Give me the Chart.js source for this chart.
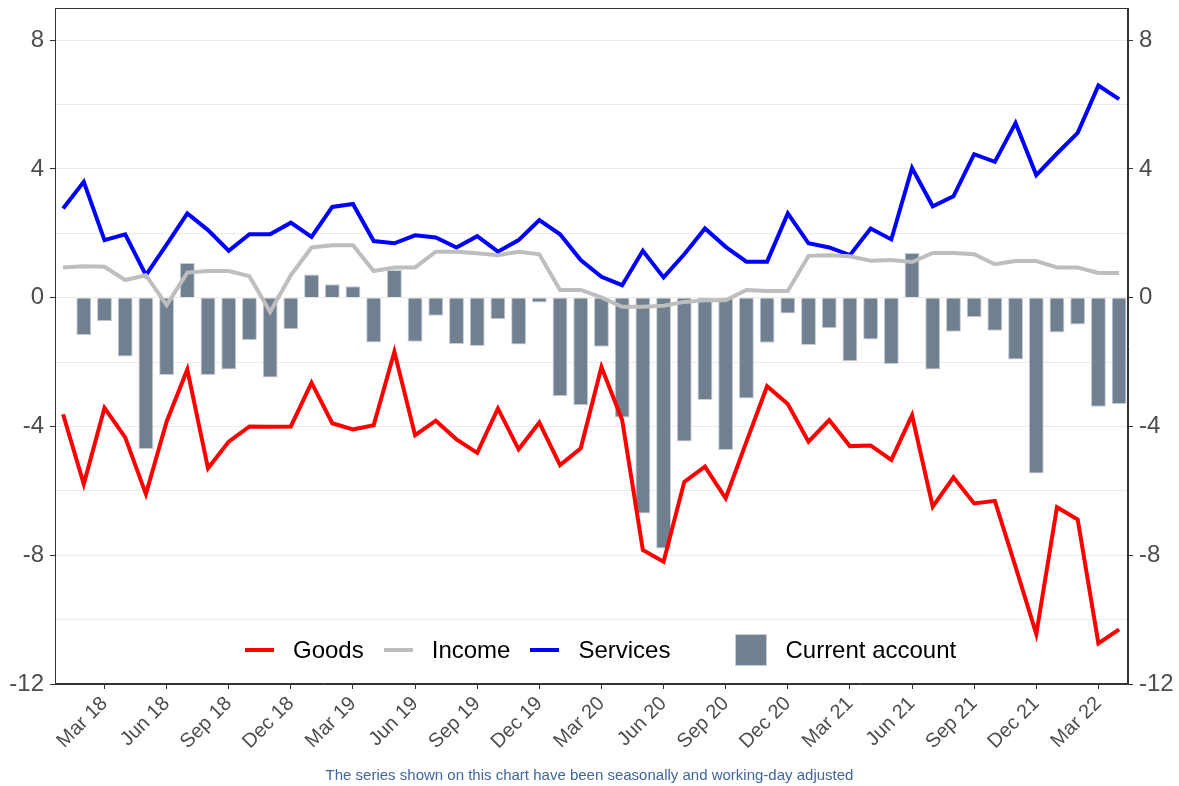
<!DOCTYPE html>
<html>
<head>
<meta charset="utf-8">
<script src="https://cdn.jsdelivr.net/npm/chart.js@4"></script>
<style>
    body { margin: 0; background: #fff; font-family: "Liberation Sans", Arial, sans-serif; }
    #wrap { position: relative; width: 1179px; height: 786px; }
    #legend { position: absolute; left: 245px; top: 632px; height: 36px; display: flex; align-items: center; font-size: 24px; color: #000; }
    #legend .line { width: 29px; height: 4px; margin-right: 19px; }
    #legend .box { width: 32px; height: 32px; margin-right: 18px; background: #708090; box-sizing: border-box; border: 1px solid #c9ced6; }
    #legend .txt { margin-right: 20px; }
    #note { position: absolute; left: 0; width: 1179px; top: 766px; text-align: center; font-size: 15px; color: #41659c; }
</style>
</head>
<body>
<div id="wrap">
    <canvas id="chart"></canvas>
    <div id="legend">
        <span class="line" style="background:#ff0000"></span><span class="txt">Goods</span>
        <span class="line" style="background:#bebebe"></span><span class="txt">Income</span>
        <span class="line" style="background:#0000ff"></span><span class="txt" style="margin-right:65px">Services</span>
        <span class="box"></span><span class="txt">Current account</span>
    </div>
    <div id="note">The series shown on this chart have been seasonally and working-day adjusted</div>
</div>
<script>
"use strict";

// monthly, Jan 18 .. Apr 22
const months = [
    "Jan 18", "Feb 18", "Mar 18", "Apr 18", "May 18", "Jun 18", "Jul 18", "Aug 18", "Sep 18", "Oct 18", "Nov 18", "Dec 18",
    "Jan 19", "Feb 19", "Mar 19", "Apr 19", "May 19", "Jun 19", "Jul 19", "Aug 19", "Sep 19", "Oct 19", "Nov 19", "Dec 19",
    "Jan 20", "Feb 20", "Mar 20", "Apr 20", "May 20", "Jun 20", "Jul 20", "Aug 20", "Sep 20", "Oct 20", "Nov 20", "Dec 20",
    "Jan 21", "Feb 21", "Mar 21", "Apr 21", "May 21", "Jun 21", "Jul 21", "Aug 21", "Sep 21", "Oct 21", "Nov 21", "Dec 21",
    "Jan 22", "Feb 22", "Mar 22", "Apr 22"
];

const tickLabels = [
    "Mar 18", "Jun 18", "Sep 18", "Dec 18", "Mar 19", "Jun 19", "Sep 19", "Dec 19",
    "Mar 20", "Jun 20", "Sep 20", "Dec 20", "Mar 21", "Jun 21", "Sep 21", "Dec 21", "Mar 22"
];

const goods = [
    -3.62, -5.79, -3.42, -4.34, -6.10, -3.85, -2.23, -5.30, -4.47, -4.00, -4.01, -4.00,
    -2.64, -3.90, -4.09, -3.96, -1.68, -4.27, -3.82, -4.40, -4.82, -3.44, -4.71, -3.88,
    -5.20, -4.68, -2.15, -3.80, -7.84, -8.20, -5.72, -5.25, -6.23, -4.48, -2.75, -3.30,
    -4.47, -3.80, -4.61, -4.59, -5.04, -3.65, -6.49, -5.58, -6.39, -6.31, -8.36, -10.45,
    -6.51, -6.89, -10.74, -10.30
];

const income = [
    0.94, 0.98, 0.96, 0.55, 0.70, -0.23, 0.78, 0.83, 0.83, 0.67, -0.44, 0.70,
    1.56, 1.63, 1.63, 0.83, 0.94, 0.94, 1.43, 1.43, 1.38, 1.32, 1.43, 1.35,
    0.24, 0.24, 0.01, -0.28, -0.28, -0.25, -0.13, -0.08, -0.08, 0.24, 0.21, 0.21,
    1.30, 1.32, 1.29, 1.15, 1.17, 1.11, 1.39, 1.39, 1.35, 1.04, 1.14, 1.14,
    0.94, 0.94, 0.77, 0.77
];

const services = [
    2.77, 3.60, 1.79, 1.97, 0.70, 1.65, 2.62, 2.10, 1.46, 1.97, 1.97, 2.33,
    1.89, 2.82, 2.91, 1.76, 1.69, 1.94, 1.87, 1.56, 1.91, 1.43, 1.79, 2.41,
    1.97, 1.17, 0.65, 0.39, 1.46, 0.63, 1.35, 2.15, 1.58, 1.12, 1.12, 2.62,
    1.69, 1.56, 1.32, 2.15, 1.81, 4.03, 2.84, 3.15, 4.46, 4.22, 5.43, 3.81,
    4.48, 5.12, 6.59, 6.17
];

const currentAccount = [
    null, -1.16, -0.73, -1.83, -4.70, -2.40, 1.08, -2.40, -2.23, -1.32, -2.48, -0.98,
    0.72, 0.42, 0.36, -1.39, 0.86, -1.37, -0.56, -1.44, -1.50, -0.67, -1.45, -0.15,
    -3.06, -3.34, -1.52, -3.72, -6.70, -7.79, -4.47, -3.18, -4.73, -3.13, -1.40, -0.49,
    -1.47, -0.95, -1.97, -1.30, -2.06, 1.39, -2.23, -1.06, -0.61, -1.03, -1.92, -5.46,
    -1.08, -0.83, -3.39, -3.30
];

const toPoints = (arr) => arr.map((v, i) => ({ x: i, y: v }));

const fontFamily = "'Liberation Sans', Arial, sans-serif";

let framePlugin = {
    id: "frame",
    afterDraw(chart) {
        let a = chart.chartArea;
        let ctx = chart.ctx;
        ctx.save();
        ctx.strokeStyle = "#333333";
        ctx.lineWidth = 1;
        ctx.strokeRect(Math.round(a.left) + 0.5, Math.round(a.top) + 0.5,
            Math.round(a.right - a.left) - 1, Math.round(a.bottom - a.top) - 1);
        ctx.restore();
    }
};

function yAxis(position, width) {
    return {
        type: "linear",
        position: position,
        min: -12,
        max: 9,
        afterBuildTicks: (scale) => {
            scale.ticks = scale.ticks.filter((t) => t.value <= 8);
        },
        afterFit: (scale) => {
            scale.width = width;
            scale.paddingTop = 0;
            scale.paddingBottom = 0;
        },
        ticks: {
            stepSize: 2,
            padding: 6,
            color: "#4d4d4d",
            font: { family: fontFamily, size: 24 },
            callback: (v) => (v % 4 === 0 ? String(v) : "")
        },
        grid: {
            drawOnChartArea: position === "left",
            color: "#ebebeb",
            lineWidth: 1,
            tickLength: 5,
            tickColor: (c) => (c.tick && c.tick.value % 4 === 0 ? "#333333" : "rgba(0,0,0,0)")
        },
        border: { color: "#333333" }
    };
}

new Chart(document.getElementById("chart"), {
    type: "bar",
    data: {
        datasets: [
            {
                type: "line",
                label: "Goods",
                data: toPoints(goods),
                borderColor: "#ff0000",
                borderWidth: 4,
                pointRadius: 0,
                tension: 0,
                order: 1
            },
            {
                type: "line",
                label: "Income",
                data: toPoints(income),
                borderColor: "#bebebe",
                borderWidth: 4,
                pointRadius: 0,
                tension: 0,
                order: 1
            },
            {
                type: "line",
                label: "Services",
                data: toPoints(services),
                borderColor: "#0000ff",
                borderWidth: 4,
                pointRadius: 0,
                tension: 0,
                order: 1
            },
            {
                type: "bar",
                label: "Current account",
                data: toPoints(currentAccount),
                backgroundColor: "#708090",
                borderColor: "#c9ced6",
                borderWidth: 1,
                categoryPercentage: 1,
                barPercentage: 0.72,
                order: 2
            }
        ]
    },
    options: {
        responsive: true,
        maintainAspectRatio: false,
        animation: false,
        layout: { padding: { top: 8, left: 0, right: 0, bottom: 0 } },
        plugins: {
            legend: { display: false },
            tooltip: { enabled: false }
        },
        scales: {
            x: {
                type: "linear",
                min: -0.39,
                max: 51.43,
                offset: false,
                afterBuildTicks: (scale) => {
                    scale.ticks = tickLabels.map((l) => ({ value: months.indexOf(l) }));
                },
                afterFit: (scale) => {
                    scale.height = 102;
                    scale.paddingLeft = 0;
                    scale.paddingRight = 0;
                },
                ticks: {
                    autoSkip: false,
                    minRotation: 45,
                    maxRotation: 45,
                    padding: 3,
                    color: "#4d4d4d",
                    font: { family: fontFamily, size: 20 },
                    callback: (v) => months[v]
                },
                grid: {
                    drawOnChartArea: false,
                    offset: false,
                    tickLength: 5,
                    tickColor: "#333333"
                },
                border: { color: "#333333" }
            },
            y: yAxis("left", 55),
            y2: yAxis("right", 51)
        }
    },
    plugins: [framePlugin]
});
</script>
</body>
</html>
